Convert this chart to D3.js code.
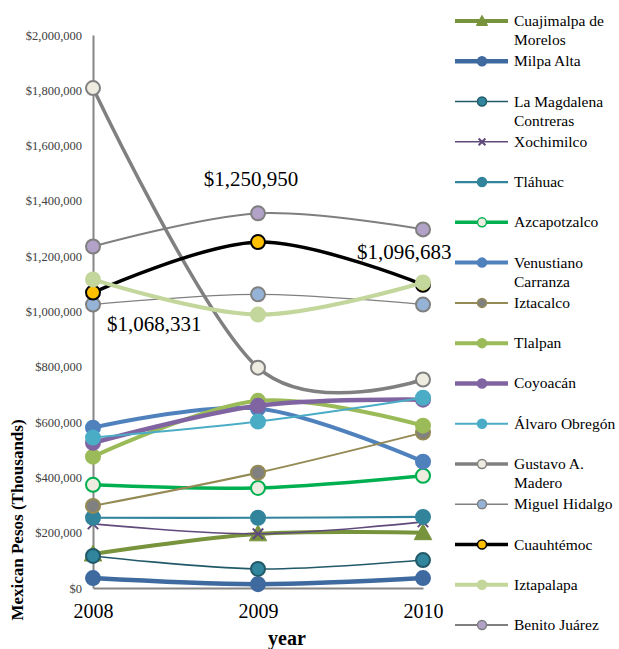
<!DOCTYPE html>
<html>
<head>
<meta charset="utf-8">
<script src="https://cdn.jsdelivr.net/npm/d3@7"></script>
<style>
  html, body { margin: 0; padding: 0; background: #fff; }
  svg { display: block; }
</style>
</head>
<body>
<svg id="chart" width="619" height="649"></svg>
<script>
// Budget by borough of Mexico City, 2008-2010
const years = ["2008", "2009", "2010"];

const boroughs = [
  "Cuajimalpa de Morelos", "Milpa Alta", "La Magdalena Contreras", "Xochimilco",
  "Tláhuac", "Azcapotzalco", "Venustiano Carranza", "Iztacalco", "Tlalpan",
  "Coyoacán", "Álvaro Obregón", "Gustavo A. Madero", "Miguel Hidalgo",
  "Cuauhtémoc", "Iztapalapa", "Benito Juárez"
];

const cuajimalpa  = [123000, 196000, 200000];
const milpaAlta   = [36000, 14000, 36000];
const magdalena   = [116000, 69000, 101000];
const xochimilco  = [232000, 196000, 239000];
const tlahuac     = [254000, 254000, 257000];
const azcapotzalco = [373000, 362000, 406000];
const venustiano  = [580000, 649000, 457000];
const iztacalco   = [297000, 417000, 562000];
const tlalpan     = [475000, 677000, 587000];
const coyoacan    = [525000, 659000, 681000];
const alvaro      = [544000, 602000, 688000];
const gustavo     = [1808000, 797000, 754000];
const miguel      = [1025000, 1062000, 1025000];
const cuauhtemoc  = [1068331, 1250950, 1096683];
const iztapalapa  = [1116000, 989000, 1105000];
const benito      = [1235000, 1355000, 1297000];

const seriesValues = [
  cuajimalpa, milpaAlta, magdalena, xochimilco, tlahuac, azcapotzalco,
  venustiano, iztacalco, tlalpan, coyoacan, alvaro, gustavo, miguel,
  cuauhtemoc, iztapalapa, benito
];

const yTicks = [0, 200000, 400000, 600000, 800000, 1000000, 1200000, 1400000, 1600000, 1800000, 2000000];

// Line and marker styling per borough
const styles = [
  { line: "#77933C", w: 4,   shape: "triangle", fill: "#77933C", stroke: "#77933C" },
  { line: "#3F6AA0", w: 4.5, shape: "circle", fill: "#3F6AA0", stroke: "#3F6AA0" },
  { line: "#215968", w: 1.6, shape: "circle", fill: "#31859C", stroke: "#215968" },
  { line: "#604A7B", w: 1.6, shape: "x",      fill: "none",    stroke: "#604A7B" },
  { line: "#31849B", w: 2.2, shape: "circle", fill: "#31849B", stroke: "#31849B" },
  { line: "#00B050", w: 3.5, shape: "circle", fill: "#EEECE1", stroke: "#00B050" },
  { line: "#4F81BD", w: 4,   shape: "circle", fill: "#4F81BD", stroke: "#4F81BD" },
  { line: "#948A54", w: 2,   shape: "circle", fill: "#808080", stroke: "#948A54" },
  { line: "#9BBB59", w: 4,   shape: "circle", fill: "#9BBB59", stroke: "#9BBB59" },
  { line: "#8064A2", w: 4.5, shape: "circle", fill: "#8064A2", stroke: "#8064A2" },
  { line: "#4BACC6", w: 2,   shape: "circle", fill: "#4BACC6", stroke: "#4BACC6" },
  { line: "#808080", w: 3.5, shape: "circle", fill: "#EEECE1", stroke: "#808080" },
  { line: "#808080", w: 1.2, shape: "circle", fill: "#95B3D7", stroke: "#808080" },
  { line: "#000000", w: 3.5, shape: "circle", fill: "#FFC000", stroke: "#000000" },
  { line: "#C3D69B", w: 4,   shape: "circle", fill: "#C3D69B", stroke: "#C3D69B" },
  { line: "#7F7F7F", w: 2,   shape: "circle", fill: "#B3A2C7", stroke: "#7F7F7F" }
];

const serif = "Liberation Serif";
const svg = d3.select("#chart");

const x = d3.scalePoint().domain(years).range([93, 423]);
const y = d3.scaleLinear().domain([0, 2000000]).range([588, 35]);

// Axes
const yAxis = d3.axisLeft(y).tickValues(yTicks).tickSize(0).tickPadding(11)
  .tickFormat(d3.format("$,"));
const gy = svg.append("g").attr("transform", "translate(93,0)").call(yAxis)
  .attr("font-family", serif);
gy.select(".domain").attr("stroke", "#868686").attr("stroke-width", 2);
gy.selectAll("text").attr("font-family", serif).attr("font-size", 12.5).attr("fill", "#404040");

const xAxis = d3.axisBottom(x).tickSize(0).tickPadding(16);
const gx = svg.append("g").attr("transform", "translate(0,588)").call(xAxis)
  .attr("font-family", serif);
gx.select(".domain").attr("stroke", "#868686").attr("stroke-width", 2);
gx.selectAll("text").attr("font-family", serif).attr("font-size", 20).attr("fill", "#000");

// Axis titles
svg.append("text").attr("x", 287).attr("y", 645).attr("text-anchor", "middle")
  .attr("font-family", serif).attr("font-weight", "bold").attr("font-size", 20).text("year");
svg.append("text").attr("transform", "translate(23,520) rotate(-90)")
  .attr("text-anchor", "middle").attr("font-family", serif).attr("font-weight", "bold")
  .attr("font-size", 17).text("Mexican Pesos (Thousands)");

const line = d3.line()
  .x((d, i) => x(years[i]))
  .y(d => y(d))
  .curve(d3.curveCardinal.tension(0));

function drawMarker(g, shape, st, cx, cy, r) {
  if (shape === "circle") {
    g.append("circle").attr("cx", cx).attr("cy", cy).attr("r", r)
      .attr("fill", st.fill).attr("stroke", st.stroke).attr("stroke-width", r > 5 ? 2 : 1.5);
  } else if (shape === "triangle") {
    const s = r * 1.25;
    g.append("path")
      .attr("d", `M${cx},${cy - s}L${cx + s},${cy + s * 0.8}L${cx - s},${cy + s * 0.8}Z`)
      .attr("fill", st.fill).attr("stroke", st.stroke).attr("stroke-width", 1);
  } else if (shape === "x") {
    const s = r * 0.75;
    g.append("path")
      .attr("d", `M${cx - s},${cy - s}L${cx + s},${cy + s}M${cx - s},${cy + s}L${cx + s},${cy - s}`)
      .attr("stroke", st.stroke).attr("stroke-width", 2).attr("fill", "none");
  }
}

// Series lines with markers
const plot = svg.append("g");
seriesValues.forEach((vals, si) => {
  const st = styles[si];
  const g = plot.append("g");
  g.append("path").attr("d", line(vals)).attr("fill", "none")
    .attr("stroke", st.line).attr("stroke-width", st.w);
  vals.forEach((v, i) => drawMarker(g, st.shape, st, x(years[i]), y(v), 7));
});

// Value labels for Cuauhtémoc
const labelFmt = d3.format("$,");
const cuIdx = boroughs.indexOf("Cuauhtémoc");
const labelOffsets = [[14, 38, "start"], [-7, -56, "middle"], [-66, -26, "start"]];
seriesValues[cuIdx].forEach((v, i) => {
  const [dx, dy, anchor] = labelOffsets[i];
  svg.append("text").attr("x", x(years[i]) + dx).attr("y", y(v) + dy)
    .attr("text-anchor", anchor).attr("font-family", serif).attr("font-size", 21)
    .attr("fill", "#000").text(labelFmt(v));
});

// Legend
const legend = svg.append("g");
const wrapped = {
  "Cuajimalpa de Morelos": ["Cuajimalpa de", "Morelos"],
  "La Magdalena Contreras": ["La Magdalena", "Contreras"],
  "Venustiano Carranza": ["Venustiano", "Carranza"],
  "Gustavo A. Madero": ["Gustavo A.", "Madero"]
};
boroughs.forEach((name, i) => {
  const st = styles[i];
  const ly = 21 + i * 40.27;
  const g = legend.append("g");
  g.append("line").attr("x1", 455).attr("x2", 508).attr("y1", ly).attr("y2", ly)
    .attr("stroke", st.line).attr("stroke-width", Math.max(st.w, 1.5));
  drawMarker(g, st.shape, st, 482, ly, 4.5);
  const lines = wrapped[name] || [name];
  const t = g.append("text").attr("x", 514).attr("y", ly + 5).attr("font-family", serif)
    .attr("font-size", 15.5).attr("fill", "#000");
  lines.forEach((l, k) => t.append("tspan").attr("x", 514).attr("dy", k === 0 ? 0 : 19).text(l));
});
</script>
</body>
</html>
